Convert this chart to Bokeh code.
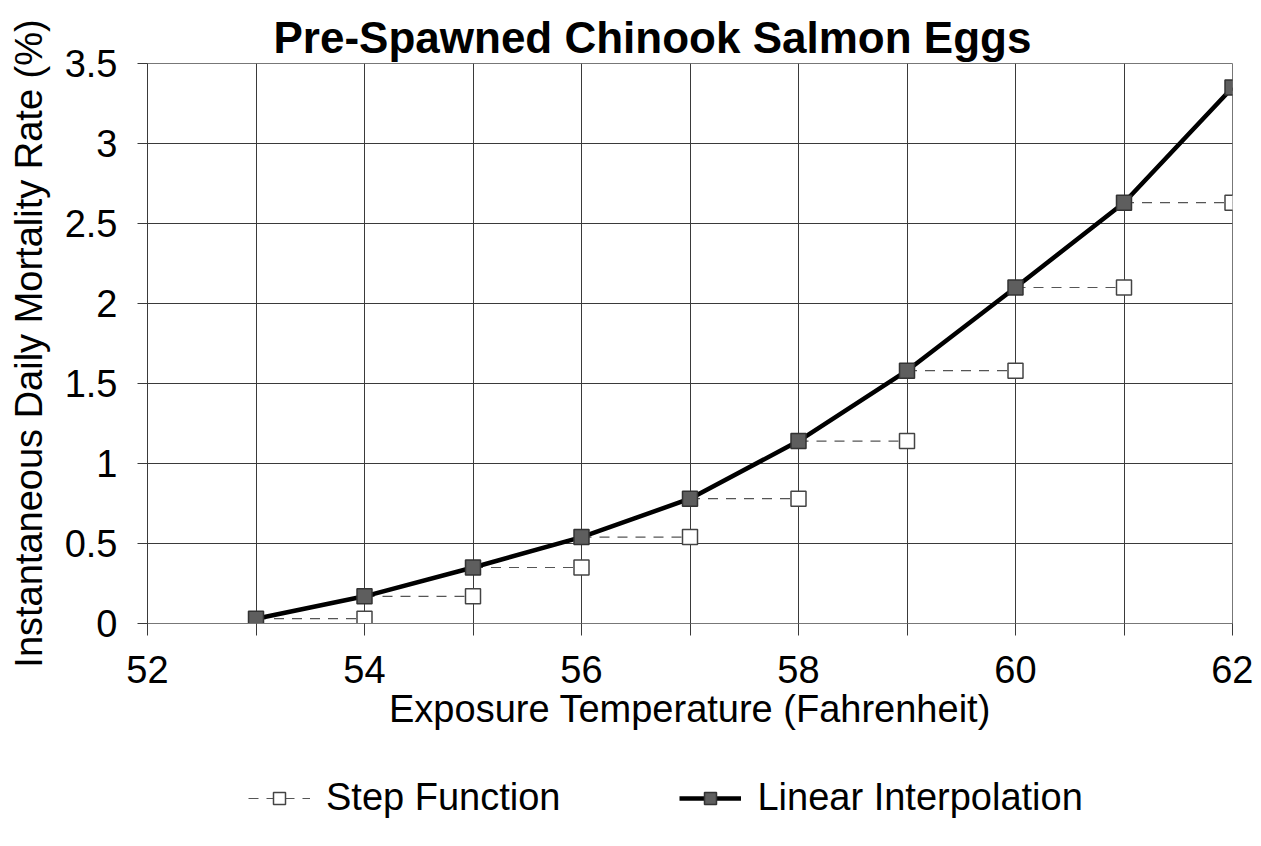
from bokeh.plotting import figure
from bokeh.layouts import column
from bokeh.models import Legend, LegendItem, FixedTicker
from bokeh.embed import file_html
from bokeh.resources import INLINE

# ---- data ----
temps = [53, 54, 55, 56, 57, 58, 59, 60, 61, 62]
linear_rate = [0.03, 0.17, 0.35, 0.54, 0.78, 1.14, 1.58, 2.10, 2.63, 3.35]
step_temps = [54, 55, 56, 57, 58, 59, 60, 61, 62]
step_rate = [0.03, 0.17, 0.35, 0.54, 0.78, 1.14, 1.58, 2.10, 2.63]

x_ticks = [52, 53, 54, 55, 56, 57, 58, 59, 60, 61, 62]
x_tick_labels = ["52", "", "54", "", "56", "", "58", "", "60", "", "62"]
y_ticks = [0, 0.5, 1, 1.5, 2, 2.5, 3, 3.5]
y_tick_labels = ["0", "0.5", "1", "1.5", "2", "2.5", "3", "3.5"]

title_text = "Pre-Spawned Chinook Salmon Eggs"
x_label = "Exposure Temperature (Fahrenheit)"
y_label = "Instantaneous Daily Mortality Rate (%)"
series_names = ["Step Function", "Linear Interpolation"]

FONT = "Liberation Sans"
GRID = "#3a3a3a"
TOTAL_W = 1253

p = figure(frame_width=1085, frame_height=560, x_range=(52, 62), y_range=(0, 3.5),
           output_backend="svg", toolbar_location=None,
           min_border_left=147, min_border_right=21,
           min_border_top=63, min_border_bottom=130)

p.title.text = title_text
p.title.align = "left"
p.title.offset = 126
p.title.text_font = FONT
p.title.text_font_size = "44px"
p.title.text_font_style = "bold"
p.title.text_color = "black"
p.title.standoff = 4

# axes
p.xaxis.ticker = FixedTicker(ticks=x_ticks)
p.xaxis.major_label_overrides = dict(zip(x_ticks, x_tick_labels))
p.yaxis.ticker = FixedTicker(ticks=y_ticks)
p.yaxis.major_label_overrides = dict(zip(y_ticks, y_tick_labels))

for ax in (p.xaxis, p.yaxis):
    ax.major_label_text_font = FONT
    ax.major_label_text_font_size = "38px"
    ax.major_label_text_color = "black"
    ax.axis_label_text_font = FONT
    ax.axis_label_text_font_size = "38px"
    ax.axis_label_text_font_style = "normal"
    ax.axis_label_text_color = "black"
    ax.minor_tick_line_color = None
    ax.major_tick_in = 0
    ax.major_tick_line_color = GRID

p.xaxis.axis_label = x_label
p.yaxis.axis_label = y_label
p.xaxis.major_tick_out = 12
p.yaxis.major_tick_out = 10
p.xaxis.major_label_standoff = 20
p.yaxis.major_label_standoff = 20
p.xaxis.axis_label_standoff = 2
p.yaxis.axis_label_standoff = 12
p.xaxis.axis_line_color = "#777777"
p.yaxis.axis_line_color = GRID

p.xgrid.grid_line_color = GRID
p.ygrid.grid_line_color = GRID
p.xgrid.grid_line_width = 1
p.ygrid.grid_line_width = 1
p.outline_line_color = "#777777"
p.outline_line_width = 1

STEP_LINE = dict(line_color="#555555", line_width=1.2, line_dash="10 8")
STEP_MARK = dict(marker="square", size=15, fill_color="white",
                 line_color="#444444", line_width=1.5)
LIN_LINE = dict(line_color="black", line_width=4.5)
LIN_MARK = dict(marker="square", size=15, fill_color="#5e5e5e",
                line_color="#333333", line_width=1.5)

# step function: dashed horizontal runs from each point to the next temperature
p.segment(x0=temps[:-1], y0=step_rate, x1=step_temps, y1=step_rate, **STEP_LINE)
p.scatter(step_temps, step_rate, **STEP_MARK)

# linear interpolation
p.line(temps, linear_rate, **LIN_LINE)
p.scatter(temps, linear_rate, **LIN_MARK)

# ---- legend strip below the chart ----
lg = figure(width=TOTAL_W, height=90, x_range=(0, 1), y_range=(0, 1),
            output_backend="svg", toolbar_location=None,
            x_axis_type=None, y_axis_type=None, min_border=0)
lg.grid.visible = False
lg.outline_line_color = None
# same series, drawn outside the visible range: used only as legend samples
s1 = lg.segment(x0=temps[:-1], y0=step_rate, x1=step_temps, y1=step_rate, **STEP_LINE)
s2 = lg.scatter(step_temps, step_rate, **STEP_MARK)
l1 = lg.line(temps, linear_rate, **LIN_LINE)
l2 = lg.scatter(temps, linear_rate, **LIN_MARK)

legend = Legend(items=[LegendItem(label=series_names[0], renderers=[s1, s2]),
                       LegendItem(label=series_names[1], renderers=[l1, l2])],
                orientation="horizontal", location=(101, 24),
                label_text_font=FONT, label_text_font_size="38px",
                label_text_color="black",
                glyph_width=62, glyph_height=30, label_standoff=16, spacing=119,
                border_line_alpha=0, background_fill_alpha=0,
                padding=0, margin=0)
lg.add_layout(legend)

page = column(p, lg, spacing=0)
open("out.html", "w").write(file_html(page, INLINE))
